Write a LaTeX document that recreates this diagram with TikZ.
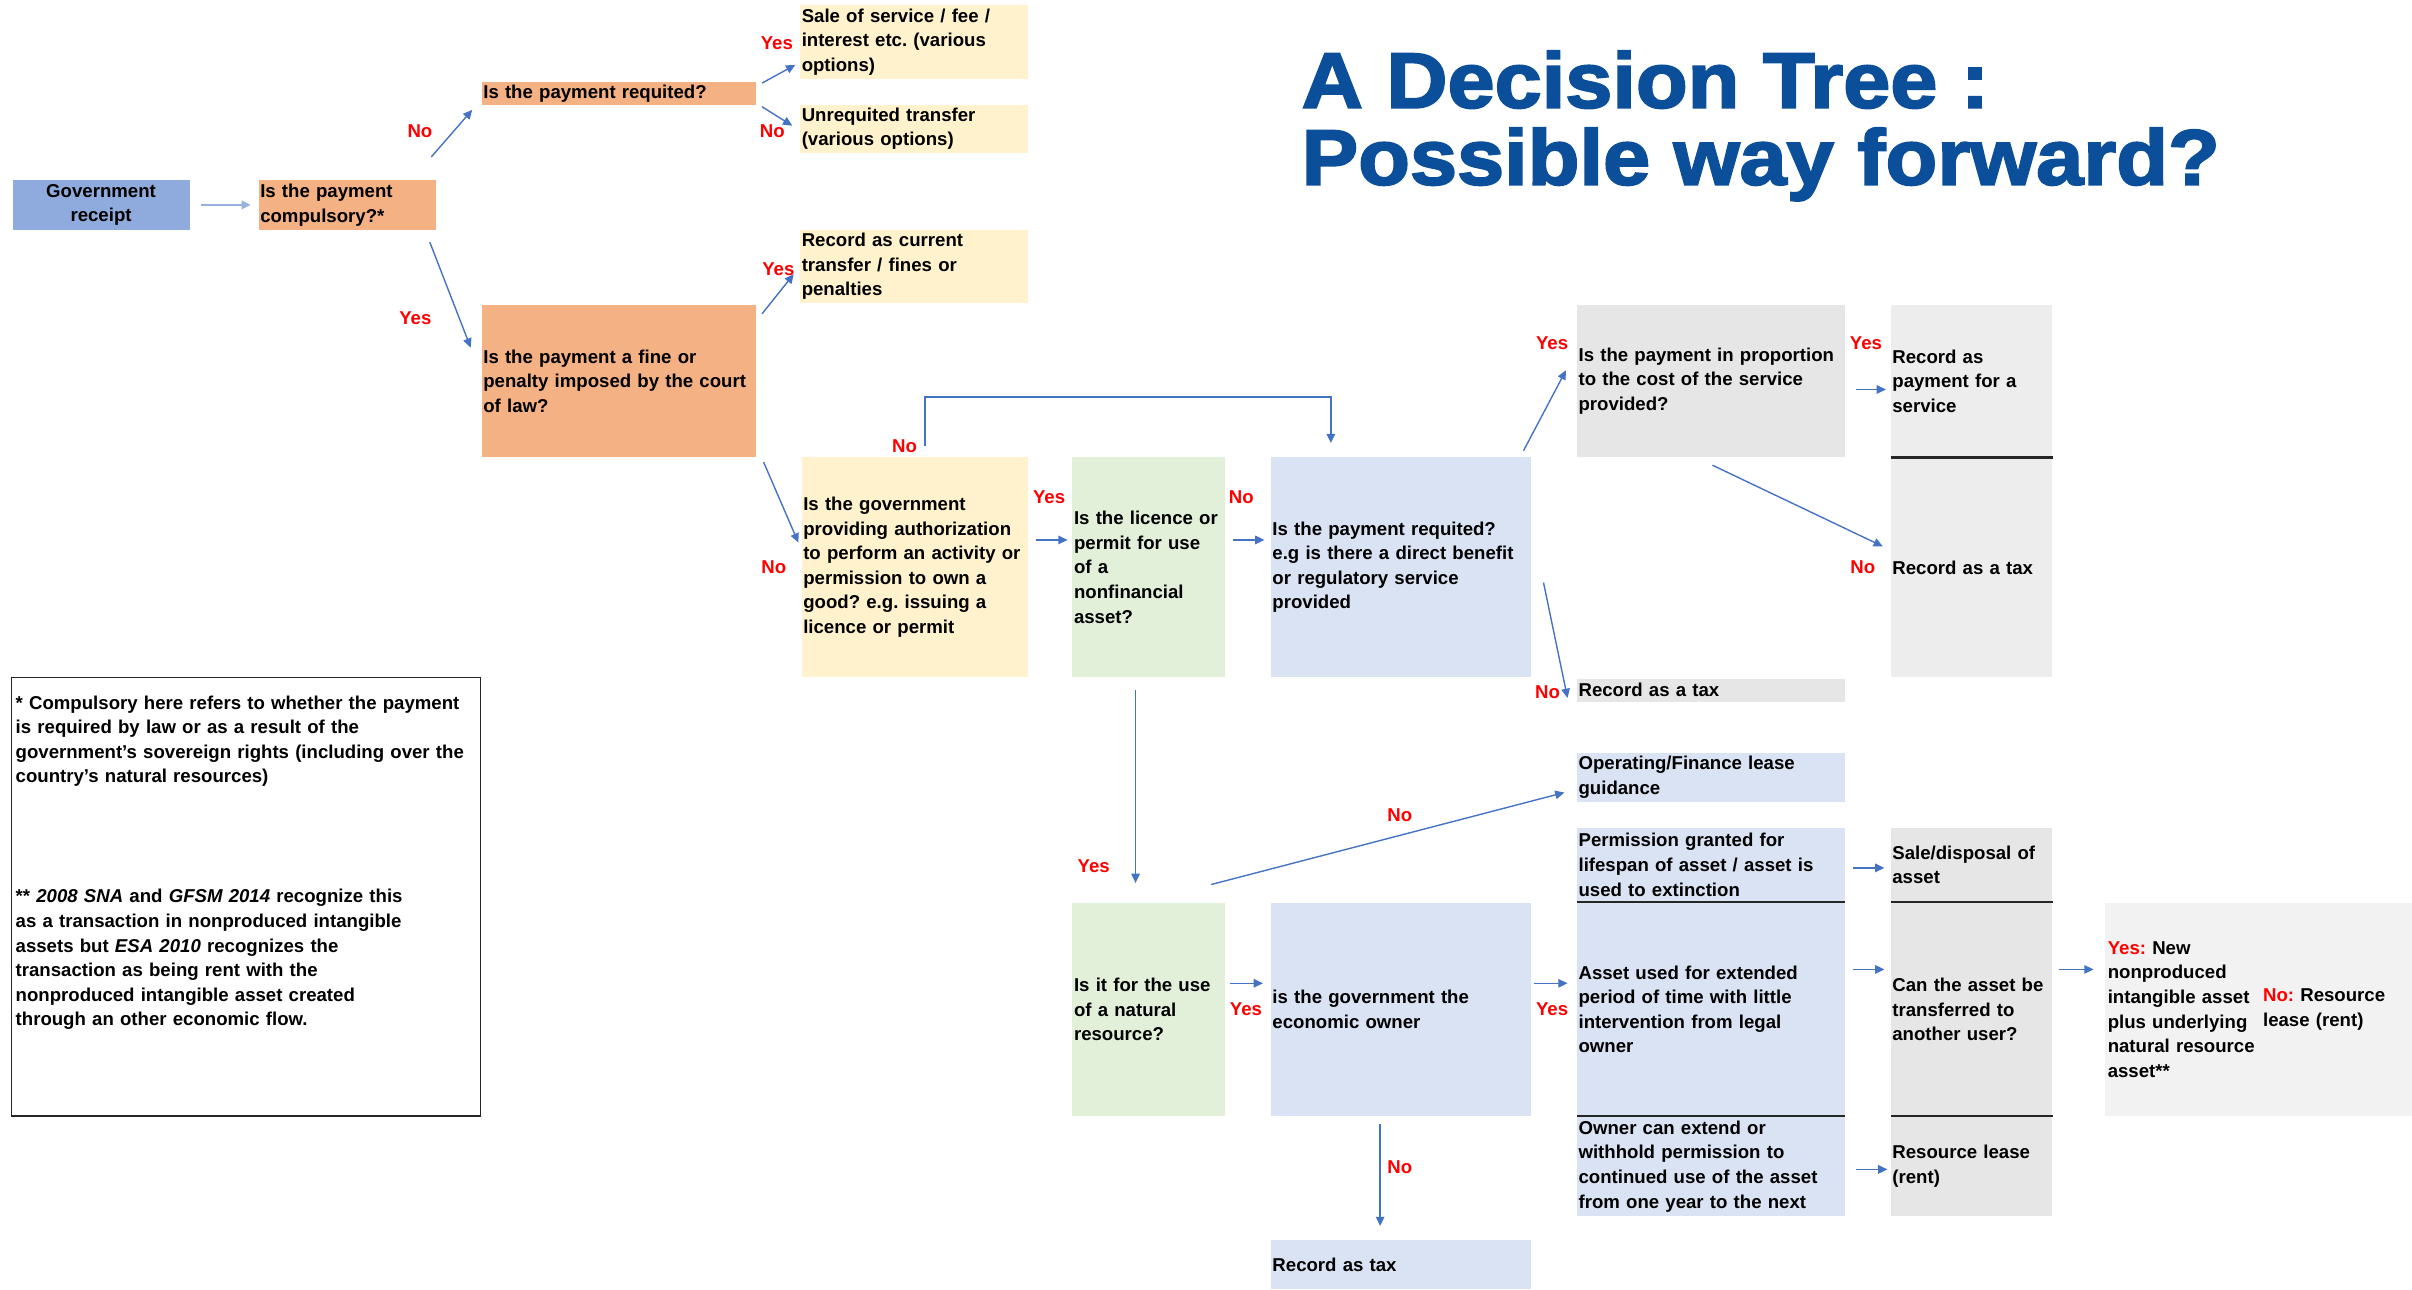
\documentclass[tikz,border=0pt]{standalone}
\usepackage{fontspec}
\setmainfont{Liberation Sans}
\newfontfamily\titlefont{Liberation Sans}[FakeStretch=1.08,FakeBold=2.5]
\usetikzlibrary{arrows.meta,calc}

\definecolor{govblue}{HTML}{8FAADC}
\definecolor{salmon}{HTML}{F4B183}
\definecolor{cream}{HTML}{FFF2CC}
\definecolor{sage}{HTML}{E2F0D9}
\definecolor{lavender}{HTML}{DAE3F3}
\definecolor{greyA}{HTML}{E7E6E6}
\definecolor{greyB}{HTML}{EDEDED}
\definecolor{greyC}{HTML}{F2F2F2}
\definecolor{arrowblue}{HTML}{4472C4}
\definecolor{answerred}{HTML}{FF0000}
\definecolor{titleblue}{HTML}{0B4E9A}

\newcommand\cellfont{\bfseries\fontsize{12.1pt}{16pt}\selectfont\frenchspacing}

\begin{document}
\begin{tikzpicture}[x=1pt,y=-1pt,
    cell/.style={anchor=north west,inner xsep=1pt,inner ysep=0pt,align=left,font=\cellfont},
    flow/.style={draw=arrowblue,line width=0.9pt,-{Triangle[length=6pt,width=5.5pt]}},
    ans/.style={text=answerred,font=\cellfont,inner sep=0pt},
    rule/.style={draw=black!85,line width=1.4pt}]
    \fill[white] (0,0) rectangle (1568,838);
    \useasboundingbox (0,0) rectangle (1568,838);

    % title
    \node[anchor=base west,inner sep=0pt,text=titleblue,font=\titlefont\bfseries\fontsize{51pt}{51pt}\selectfont] (title1) at (846,70) {A Decision Tree :};
    \node[anchor=base west,inner sep=0pt,text=titleblue,font=\titlefont\bfseries\fontsize{51pt}{51pt}\selectfont] (title2) at (846,120) {Possible way forward?};

    % first questions
    \node[cell,fill=govblue,text width=113pt,minimum height=32pt,align=center] (gov) at (8,117) {Government\\receipt};
    \node[cell,fill=salmon,text width=113pt,minimum height=32pt] (comp) at (168,117) {Is the payment\\compulsory?*};
    \node[cell,fill=salmon,text width=176pt,minimum height=15pt] (req) at (313,53) {Is the payment requited?};
    \node[cell,fill=cream,text width=146pt,minimum height=48pt] (sale) at (520,3) {Sale of service / fee /\\interest etc. (various\\options)};
    \node[cell,fill=cream,text width=146pt,minimum height=31pt] (unreq) at (520,68) {Unrequited transfer\\(various options)};
    \node[cell,fill=cream,text width=146pt,minimum height=48pt] (curr) at (520,149) {Record as current\\transfer / fines or\\penalties};
    \node[cell,fill=salmon,text width=176pt,minimum height=99pt] (fine) at (313,198) {Is the payment a fine or\\penalty imposed by the court\\of law?};

    % licences and permits
    \node[cell,fill=cream,text width=145pt,minimum height=143pt] (auth) at (521,297) {Is the government\\providing authorization\\to perform an activity or\\permission to own a\\good? e.g. issuing a\\licence or permit};
    \node[cell,fill=sage,text width=97pt,minimum height=143pt] (lic) at (697,297) {Is the licence or\\permit for use\\of a\\nonfinancial\\asset?};
    \node[cell,fill=lavender,text width=167pt,minimum height=143pt] (preq) at (826,297) {Is the payment requited?\\e.g is there a direct benefit\\or regulatory service\\provided};
    \node[cell,fill=greyA,text width=172pt,minimum height=99pt] (prop) at (1025,198) {Is the payment in proportion\\to the cost of the service\\provided?};
    \node[cell,fill=greyB,text width=103pt,minimum height=99pt] (pserv) at (1229,198) {Record as\\payment for a\\service};
    \node[cell,fill=greyB,text width=103pt,minimum height=142pt] (tax1) at (1229,298) {Record as a tax};
    \node[cell,fill=greyA,text width=172pt,minimum height=15pt] (tax2) at (1025,441) {Record as a tax};

    % natural resources
    \node[cell,fill=lavender,text width=172pt,minimum height=32pt] (lease) at (1025,489) {Operating/Finance lease\\guidance};
    \node[cell,fill=lavender,text width=172pt,minimum height=48pt] (perm) at (1025,538) {Permission granted for\\lifespan of asset / asset is\\used to extinction};
    \node[cell,fill=greyA,text width=103pt,minimum height=48pt] (saled) at (1229,538) {Sale/disposal of\\asset};
    \node[cell,fill=sage,text width=97pt,minimum height=138pt] (nat) at (697,587) {Is it for the use\\of a natural\\resource?};
    \node[cell,fill=lavender,text width=167pt,minimum height=138pt] (econ) at (826,587) {is the government the\\economic owner};
    \node[cell,fill=lavender,text width=172pt,minimum height=138pt] (ext) at (1025,587) {Asset used for extended\\period of time with little\\intervention from legal\\owner};
    \node[cell,fill=greyA,text width=103pt,minimum height=138pt] (trans) at (1229,587) {Can the asset be\\transferred to\\another user?};
    \node[cell,fill=greyC,text width=198pt,minimum height=138pt] (newasset) at (1368,587) {\hspace{1pt}\parbox[c]{100pt}{\raggedright\textcolor{answerred}{Yes:} New\\nonproduced\\intangible asset\\plus underlying\\natural resource\\asset**}\hspace{1pt}\parbox[c]{94pt}{\raggedright\textcolor{answerred}{No:} Resource\\lease (rent)}};
    \node[cell,fill=lavender,text width=172pt,minimum height=64pt] (own) at (1025,726) {Owner can extend or\\withhold permission to\\continued use of the asset\\from one year to the next};
    \node[cell,fill=greyA,text width=103pt,minimum height=64pt] (rent) at (1229,726) {Resource lease\\(rent)};
    \node[cell,fill=lavender,text width=167pt,minimum height=32pt] (rtax) at (826,806) {Record as tax};

    \draw[rule] (pserv.south west) -- (pserv.south east);
    \draw[rule] (perm.south west) -- (perm.south east);
    \draw[rule] (saled.south west) -- (saled.south east);
    \draw[rule] (ext.south west) -- (ext.south east);
    \draw[rule] (trans.south west) -- (trans.south east);

    % footnotes
    \node[draw=black!85,line width=1pt,anchor=north west,inner sep=0pt,minimum width=305pt,minimum height=285pt] (note) at (7,440) {};
    \node[cell,inner sep=0pt,text width=300pt] (notetext) at ($(note.north west)+(3,12)$) {* Compulsory here refers to whether the payment\\is required by law or as a result of the\\government's sovereign rights (including over the\\country's natural resources)\\[62pt]** \textit{2008 SNA} and \textit{GFSM 2014} recognize this\\as a transaction in nonproduced intangible\\assets but \textit{ESA 2010} recognizes the\\transaction as being rent with the\\nonproduced intangible asset created\\through an other economic flow.};

    % connectors
    \draw[flow,draw=arrowblue!55,line width=1.6pt] ($(gov.east)+(7,0)$) -- ($(comp.west)+(-5,0)$);
    \draw[flow] ($(comp.north east)+(-3,-15)$) -- ($(req.south west)+(-6,3)$);
    \draw[flow] ($(req.north east)+(4,1)$) -- ($(sale.west)+(-3,15)$);
    \draw[flow] ($(req.south east)+(4,1)$) -- ($(unreq.west)+(-5,-2)$);
    \draw[flow] ($(comp.south east)+(-4,8)$) -- ($(fine.north west)+(-7,28)$);
    \draw[flow] ($(fine.north east)+(4,6)$) -- ($(curr.west)+(-4,5)$);
    \draw[flow] ($(fine.south east)+(5,3)$) -- ($(auth.west)+(-2,-16)$);
    \draw[flow,line width=1.3pt] ($(auth.north)+(6.5,-7)$) |- ($(preq.north)+(-45.5,-39)$) -- ($(preq.north)+(-45.5,-9)$);
    \draw[flow] ($(auth.north east)+(5,54)$) -- ($(lic.north west)+(-3,54)$);
    \draw[flow] ($(lic.north east)+(5,54)$) -- ($(preq.north west)+(-4,54)$);
    \draw[flow] ($(preq.north east)+(-5,-4)$) -- ($(prop.west)+(-7,-7)$);
    \draw[flow] ($(preq.east)+(8,10)$) -- ($(tax2.west)+(-6,5)$);
    \draw[flow] ($(prop.east)+(7,5.5)$) -- ($(pserv.west)+(-3,5.5)$);
    \draw[flow] ($(prop.south)+(1,5)$) -- ($(tax1.west)+(-5,-14)$);
    \draw[flow] ($(lic.south)+(-8.5,8)$) -- ($(nat.north)+(-8.5,-13)$);
    \draw[flow] ($(nat.north east)+(-9,-12)$) -- ($(lease.west)+(-8,10)$);
    \draw[flow] ($(nat.east)+(3,-17)$) -- ($(econ.west)+(-5,-17)$);
    \draw[flow] ($(econ.east)+(2,-17)$) -- ($(ext.west)+(-6,-17)$);
    \draw[flow] ($(econ.south)+(-13.5,5)$) -- ($(rtax.north)+(-13.5,-9)$);
    \draw[flow] ($(perm.east)+(5,2)$) -- ($(saled.west)+(-4,2)$);
    \draw[flow] ($(ext.east)+(5,-26)$) -- ($(trans.west)+(-4,-26)$);
    \draw[flow] ($(trans.east)+(4,-26)$) -- ($(newasset.west)+(-7,-26)$);
    \draw[flow] ($(own.east)+(7,2)$) -- ($(rent.west)+(-2,2)$);

    % yes / no answers
    \node[ans] (noComp) at (273,85) {No};
    \node[ans] (yesReq) at (505,28) {Yes};
    \node[ans] (noReq) at (502,85) {No};
    \node[ans] (yesComp) at (270,207) {Yes};
    \node[ans] (yesFine) at (506,175) {Yes};
    \node[ans] (noFine) at (503,369) {No};
    \node[ans] (noAuth) at (588,290) {No};
    \node[ans] (yesAuth) at (682,323) {Yes};
    \node[ans] (noLic) at (807,323) {No};
    \node[ans] (yesPreq) at (1009,223) {Yes};
    \node[ans] (noPreq) at (1006,450) {No};
    \node[ans] (yesProp) at (1213,223) {Yes};
    \node[ans] (noProp) at (1211,369) {No};
    \node[ans] (yesLic) at (711,563) {Yes};
    \node[ans] (noNat) at (910,530) {No};
    \node[ans] (yesNat) at (810,656) {Yes};
    \node[ans] (yesEcon) at (1009,656) {Yes};
    \node[ans] (noEcon) at (910,759) {No};
\end{tikzpicture}
\end{document}
